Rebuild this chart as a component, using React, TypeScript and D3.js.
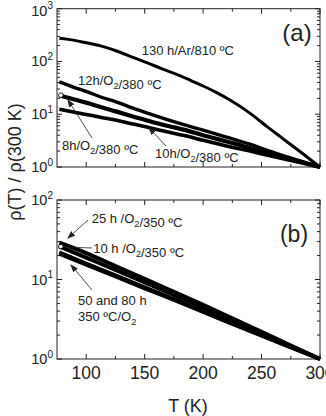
import React, { useEffect, useRef } from "react";
import * as d3 from "d3";

// temperature grids (K)
const tA130 = [77, 90, 100, 113, 126, 140, 155, 166, 180, 190, 200, 212, 223, 240, 255, 266, 280, 290, 300];
const tA = [77, 90, 100, 113, 126, 140, 155, 170, 185, 200, 220, 240, 260, 280, 300];
const tB = [77, 100, 125, 150, 175, 200, 225, 250, 275, 300];

// panel (a): rho(T)/rho(300 K)
const rA130 = [275, 251, 226, 195, 158, 120, 89, 71, 54, 43, 34.3, 25.4, 18.6, 10.5, 5.75, 3.76, 2.19, 1.48, 1];
const rA12 = [41, 32, 27, 21, 17, 13, 10, 7.8, 6.2, 5.0, 3.7, 2.7, 1.9, 1.37, 1];
const rA8 = [23, 19, 16.6, 13.6, 11.2, 9.1, 7.3, 6.0, 5.0, 4.0, 3.05, 2.3, 1.75, 1.32, 1];
const rA10 = [12.4, 10.9, 9.9, 8.7, 7.7, 6.5, 5.5, 4.6, 3.9, 3.2, 2.5, 2.0, 1.58, 1.26, 1];

// panel (b)
const rB25 = [29, 21.5, 14.8, 10.2, 7.0, 4.8, 3.25, 2.2, 1.48, 1];
const rB10 = [26, 18.8, 13.2, 9.2, 6.4, 4.4, 3.05, 2.1, 1.45, 1];
const rB50 = [22, 15.9, 11.3, 8.0, 5.7, 4.0, 2.8, 1.98, 1.4, 1];
const rB80 = [21, 15.3, 10.9, 7.7, 5.5, 3.9, 2.75, 1.95, 1.39, 1];

const xMajor = [100, 150, 200, 250, 300];
const xMinor = [125, 175, 225, 275];
const xLabels = ["100", "150", "200", "250", "300"];

const FONT = "'Liberation Sans', Arial, sans-serif";

type Part = [string, boolean?];

export default function App() {
  const ref = useRef<SVGSVGElement>(null);

  useEffect(() => {
    draw();
  }, []);

  let draw = () => {
    const svg = d3.select(ref.current);
    svg.selectAll("*").remove();
    svg.style("font-family", FONT);

    svg
      .append("defs")
      .append("marker")
      .attr("id", "arr")
      .attr("markerUnits", "userSpaceOnUse")
      .attr("markerWidth", 8)
      .attr("markerHeight", 6)
      .attr("refX", 7)
      .attr("refY", 3)
      .attr("orient", "auto")
      .append("path")
      .attr("d", "M0,0 L8,3 L0,6 z")
      .attr("fill", "#222");

    const x = d3.scaleLinear().domain([75, 300]).range([57, 320]);
    const yA = d3.scaleLog().domain([1, 1000]).range([167, 8.7]);
    const yB = d3.scaleLog().domain([1, 100]).range([359, 200]);

    const label = (px: number, py: number, parts: Part[], size = 13) => {
      const t = svg
        .append("text")
        .attr("x", px)
        .attr("y", py)
        .attr("font-size", size)
        .attr("fill", "#222");
      parts.forEach(([s, sub]) => {
        if (sub) {
          t.append("tspan").attr("font-size", size * 0.7).attr("dy", 4).text(s);
          t.append("tspan").attr("dy", -4).text("");
        } else {
          t.append("tspan").text(s);
        }
      });
    };

    const arrow = (x1: number, y1: number, x2: number, y2: number, head = true) => {
      svg
        .append("line")
        .attr("x1", x1)
        .attr("y1", y1)
        .attr("x2", x2)
        .attr("y2", y2)
        .attr("stroke", "#222")
        .attr("stroke-width", 0.8)
        .attr("marker-end", head ? "url(#arr)" : null);
    };

    const panel = (y: d3.ScaleLogarithmic<number, number>) => {
      const [y0, y1] = y.range();
      const g = svg.append("g");
      // major + minor log ticks on left and right
      y.ticks().forEach((v) => {
        const major = Math.abs(Math.log10(v) - Math.round(Math.log10(v))) < 1e-9;
        const len = major ? 5 : 3;
        g.append("line").attr("x1", 57).attr("x2", 57 + len).attr("y1", y(v)).attr("y2", y(v)).attr("stroke", "#222");
        g.append("line").attr("x1", 320).attr("x2", 320 - len).attr("y1", y(v)).attr("y2", y(v)).attr("stroke", "#222");
        if (major) {
          const base = Math.max(y(v) + 5, 15.5);
          const t = g
            .append("text")
            .attr("x", 53)
            .attr("y", base)
            .attr("text-anchor", "end")
            .attr("font-size", 14.5)
            .attr("fill", "#222");
          t.append("tspan").text("10");
          t.append("tspan").attr("dy", -6.5).attr("font-size", 10).text(String(Math.round(Math.log10(v))));
        }
      });
      xMajor.forEach((v) => {
        g.append("line").attr("x1", x(v)).attr("x2", x(v)).attr("y1", y0).attr("y2", y0 - 5).attr("stroke", "#222");
        g.append("line").attr("x1", x(v)).attr("x2", x(v)).attr("y1", y1).attr("y2", y1 + 5).attr("stroke", "#222");
      });
      xMinor.forEach((v) => {
        g.append("line").attr("x1", x(v)).attr("x2", x(v)).attr("y1", y0).attr("y2", y0 - 3).attr("stroke", "#222");
        g.append("line").attr("x1", x(v)).attr("x2", x(v)).attr("y1", y1).attr("y2", y1 + 3).attr("stroke", "#222");
      });
      g.append("rect")
        .attr("x", 57)
        .attr("y", y1)
        .attr("width", 320 - 57)
        .attr("height", y0 - y1)
        .attr("fill", "none")
        .attr("stroke", "#222")
        .attr("stroke-width", 1);
    };

    panel(yA);
    panel(yB);

    const curve = (ts: number[], rs: number[], y: d3.ScaleLogarithmic<number, number>, w: number) => {
      const line = d3
        .line<number>()
        .x((d, i) => x(ts[i]))
        .y((d) => y(d))
        .curve(d3.curveMonotoneX);
      svg
        .append("path")
        .attr("d", line(rs))
        .attr("fill", "none")
        .attr("stroke", "#000")
        .attr("stroke-width", w)
        .attr("stroke-linejoin", "round");
    };

    curve(tA130, rA130, yA, 3);
    curve(tA, rA12, yA, 3.4);
    curve(tA, rA8, yA, 4.2);
    curve(tA, rA10, yA, 3.6);

    curve(tB, rB25, yB, 4);
    curve(tB, rB10, yB, 4);
    curve(tB, rB50, yB, 3.6);
    curve(tB, rB80, yB, 3.6);

    // open markers at the first point
    svg.append("circle").attr("cx", x(tA[0]) + 1.5).attr("cy", yA(rA8[0])).attr("r", 2.3).attr("fill", "#fff").attr("stroke", "#000").attr("stroke-width", 0.9);
    svg.append("circle").attr("cx", x(tB[0]) + 1.5).attr("cy", yB(rB10[0])).attr("r", 2.3).attr("fill", "#fff").attr("stroke", "#000").attr("stroke-width", 0.9);

    // x tick labels (bottom panel)
    xMajor.forEach((v, i) => {
      svg
        .append("text")
        .attr("x", x(v))
        .attr("y", 379)
        .attr("text-anchor", "middle")
        .attr("font-size", 17.5)
        .attr("fill", "#222")
        .text(xLabels[i]);
    });

    svg.append("text").attr("x", 188).attr("y", 412).attr("text-anchor", "middle").attr("font-size", 18).attr("fill", "#222").text("T (K)");
    svg
      .append("text")
      .attr("transform", "translate(21,162) rotate(-90)")
      .attr("text-anchor", "middle")
      .attr("font-size", 18)
      .attr("fill", "#222")
      .text("ρ(T) / ρ(300 K)");

    svg.append("text").attr("x", 297).attr("y", 41).attr("text-anchor", "middle").attr("font-size", 24).attr("fill", "#222").text("(a)");
    svg.append("text").attr("x", 294).attr("y", 242).attr("text-anchor", "middle").attr("font-size", 23).attr("fill", "#222").text("(b)");

    // panel (a) annotations
    label(141.7, 55, [["130 h/Ar/810 ºC"]]);
    label(78, 85, [["12h/O"], ["2", true], ["/380 ºC"]]);
    label(62, 150, [["8h/O"], ["2", true], ["/380 ºC"]]);
    label(155, 158, [["10h/O"], ["2", true], ["/380 ºC"]]);
    arrow(92, 138, 68, 100);
    arrow(166, 146, 149, 128);

    // panel (b) annotations
    label(91.7, 223, [["25 h /O"], ["2", true], ["/350 ºC"]]);
    label(93.3, 253, [["10 h /O"], ["2", true], ["/350 ºC"]]);
    label(78, 305, [["50 and 80 h"]]);
    label(78, 321, [["350 ºC/O"], ["2", true]]);
    arrow(88, 220, 68, 238);
    arrow(92, 248, 66, 247, false);
    arrow(92, 290, 71, 265);
  };

  return (
    <div style={{ position: "absolute", left: 0, top: 0 }}>
      <svg ref={ref} width={326} height={416} style={{ display: "block", background: "#fff" }} />
    </div>
  );
}
